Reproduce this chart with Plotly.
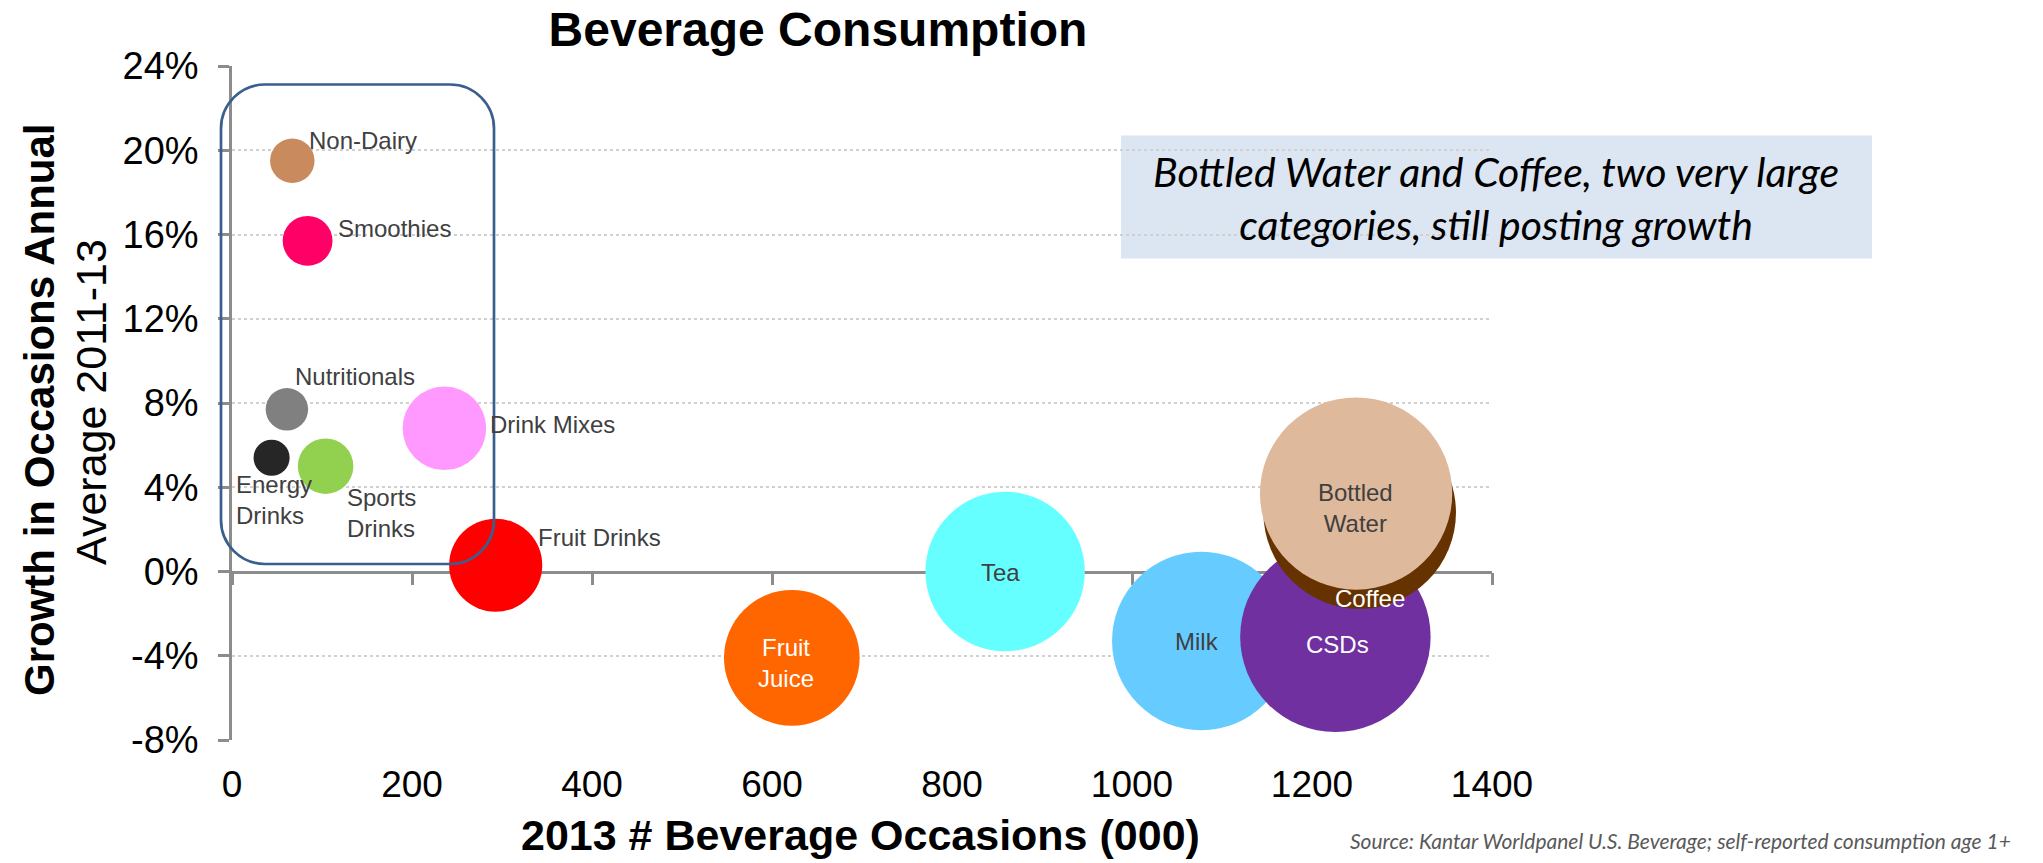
import plotly.graph_objects as go

# ---- data -------------------------------------------------------------
categories = ["Non-Dairy", "Smoothies", "Nutritionals", "Energy Drinks", "Sports Drinks",
              "Drink Mixes", "Fruit Drinks", "Fruit Juice", "Tea", "Milk", "CSDs",
              "Coffee", "Bottled Water"]
occasions = [67, 84, 61, 44, 104, 236, 293, 622, 859, 1077, 1226, 1253, 1249]   # 000s, 2013
growth = [19.5, 15.7, 7.7, 5.4, 5.0, 6.8, 0.3, -4.1, 0.0, -3.3, -3.1, 2.8, 3.7]  # % avg 2011-13
display_labels = ["Non-Dairy", "Smoothies", "Nutritionals", "Energy<br>Drinks", "Sports<br>Drinks",
                  "Drink Mixes", "Fruit Drinks", "Fruit<br>Juice", "Tea", "Milk", "CSDs",
                  "Coffee", "Bottled<br>Water"]
x_ticks = [0, 200, 400, 600, 800, 1000, 1200, 1400]
y_ticks = [-8, -4, 0, 4, 8, 12, 16, 20, 24]
y_tick_text = ["-8%", "-4%", "0%", "4%", "8%", "12%", "16%", "20%", "24%"]

# ---- styles -----------------------------------------------------------
bubble_colors = {
    "Non-Dairy": "#C98B5E", "Smoothies": "#FF0066", "Nutritionals": "#808080",
    "Energy Drinks": "#262626", "Sports Drinks": "#92D050", "Drink Mixes": "#FF99FF",
    "Fruit Drinks": "#FF0000", "Fruit Juice": "#FF6600", "Tea": "#66FFFF",
    "Milk": "#66CCFF", "CSDs": "#7030A0", "Coffee": "#663300", "Bottled Water": "#DFB99C",
}
DARK = "#404040"
WHITE = "#FFFFFF"
# label placement: (xanchor, xshift px, yshift px, colour)
label_style = {
    "Non-Dairy": ("left", 15, 20, DARK),
    "Smoothies": ("left", 28, 12, DARK),
    "Nutritionals": ("left", 6, 33, DARK),
    "Energy Drinks": ("left", -38, -42, DARK),
    "Sports Drinks": ("left", 19, -47, DARK),
    "Drink Mixes": ("left", 44, 4, DARK),
    "Fruit Drinks": ("left", 40, 28, DARK),
    "Fruit Juice": ("center", -6, -5, WHITE),
    "Tea": ("center", -5, -1, DARK),
    "Milk": ("center", -4, 0, DARK),
    "CSDs": ("center", 2, -8, WHITE),
    "Coffee": ("center", 10, -86, WHITE),
    "Bottled Water": ("center", -1, -14, DARK),
}

W, H = 2043, 863
PL, PR, PT, PB = 232, 1492, 66, 740   # plot area edges in pixels


def paper(xp, yp):
    """pixel position -> paper coordinates"""
    return (xp - PL) / (PR - PL), (PB - yp) / (PB - PT)


AXIS_GREY = "#8C8C8C"
SANS = "Liberation Sans, Arial, sans-serif"
ITALIC_FONT = "Lato, Open Sans, sans-serif"

fig = go.Figure()
fig.add_trace(go.Scatter(
    x=occasions, y=growth, mode="markers",
    marker=dict(size=occasions, sizemode="area", sizeref=0.0676,
                color=[bubble_colors[c] for c in categories],
                line=dict(width=0), opacity=1),
    hovertext=categories, hoverinfo="text", cliponaxis=False,
    showlegend=False,
))
# empty trace that binds the zero-line axis (x2) to the plot
fig.add_trace(go.Scatter(x=[None], y=[None], xaxis="x2", yaxis="y", mode="markers",
                         showlegend=False, hoverinfo="skip"))

annotations = []
for cat, xv, yv, lab in zip(categories, occasions, growth, display_labels):
    xa, xs, ys, col = label_style[cat]
    annotations.append(dict(
        x=xv, y=yv, xref="x", yref="y", text=lab, showarrow=False,
        xanchor=xa, yanchor="middle", xshift=xs, yshift=ys, align=xa,
        font=dict(family=SANS, size=24, color=col),
    ))

# axis titles
gx, gy = paper(39, 410)
annotations.append(dict(x=gx, y=gy, xref="paper", yref="paper", showarrow=False,
                        text="<b>Growth in Occasions Annual</b>", textangle=-90,
                        xanchor="center", yanchor="middle",
                        font=dict(family=SANS, size=42, color="#000000")))
gx, gy = paper(91, 402)
annotations.append(dict(x=gx, y=gy, xref="paper", yref="paper", showarrow=False,
                        text="Average 2011-13", textangle=-90,
                        xanchor="center", yanchor="middle",
                        font=dict(family=SANS, size=43, color="#000000")))
gx, gy = paper(860, 835)
annotations.append(dict(x=gx, y=gy, xref="paper", yref="paper", showarrow=False,
                        text="<b>2013 # Beverage Occasions (000)</b>",
                        xanchor="center", yanchor="middle",
                        font=dict(family=SANS, size=43, color="#000000")))
# source note
gx, gy = paper(2013, 840)
annotations.append(dict(x=gx, y=gy, xref="paper", yref="paper", showarrow=False,
                        text="<i>Source: Kantar Worldpanel U.S. Beverage; self-reported consumption age 1+</i>",
                        xanchor="right", yanchor="middle",
                        font=dict(family=ITALIC_FONT, size=21, color="#595959")))
# callout text
gx, gy = paper(1496, 198)
annotations.append(dict(x=gx, y=gy, xref="paper", yref="paper", showarrow=False,
                        text="<i>Bottled Water and Coffee, two very large<br>categories, still posting growth</i>",
                        xanchor="center", yanchor="middle", align="center",
                        font=dict(family=ITALIC_FONT, size=41, color="#000000")))

shapes = []
# callout background
x0, y0 = paper(1121, 258.5)
x1, y1 = paper(1872, 135.5)
shapes.append(dict(type="rect", xref="paper", yref="paper", x0=x0, y0=y0, x1=x1, y1=y1,
                   fillcolor="#DCE6F2", line=dict(width=0), layer="below"))

# rounded outline around the small, fast-growing categories
bx0, by0 = paper(221, 564)
bx1, by1 = paper(494, 84.5)
rx = 44 / (PR - PL)
ry = 44 / (PB - PT)
k = 0.5523
path = (
    f"M {bx0 + rx},{by1} L {bx1 - rx},{by1} "
    f"C {bx1 - rx * (1 - k)},{by1} {bx1},{by1 - ry * (1 - k)} {bx1},{by1 - ry} "
    f"L {bx1},{by0 + ry} "
    f"C {bx1},{by0 + ry * (1 - k)} {bx1 - rx * (1 - k)},{by0} {bx1 - rx},{by0} "
    f"L {bx0 + rx},{by0} "
    f"C {bx0 + rx * (1 - k)},{by0} {bx0},{by0 + ry * (1 - k)} {bx0},{by0 + ry} "
    f"L {bx0},{by1 - ry} "
    f"C {bx0},{by1 - ry * (1 - k)} {bx0 + rx * (1 - k)},{by1} {bx0 + rx},{by1} Z"
)
shapes.append(dict(type="path", xref="paper", yref="paper", path=path,
                   line=dict(color="#3A5F8F", width=2.7), fillcolor="rgba(0,0,0,0)",
                   layer="above"))

fig.update_layout(
    width=W, height=H, autosize=False,
    margin=dict(l=PL, r=W - PR, t=PT, b=H - PB, pad=0),
    paper_bgcolor="white", plot_bgcolor="white",
    title=dict(text="<b>Beverage Consumption</b>", xref="container", yref="container",
               x=818 / W, y=1 - 29 / H, xanchor="center", yanchor="middle",
               font=dict(family=SANS, size=48, color="#000000")),
    xaxis=dict(range=[0, 1400], tickvals=x_ticks, showgrid=False, zeroline=False,
               showline=False, ticks="outside", ticklen=12, tickcolor="rgba(0,0,0,0)",
               tickfont=dict(family=SANS, size=37, color="#000000"), fixedrange=True),
    xaxis2=dict(range=[0, 1400], tickvals=x_ticks, overlaying="x", anchor="free",
                position=0.25, showgrid=False, zeroline=False, showline=True,
                linecolor=AXIS_GREY, linewidth=2.5, ticks="outside", ticklen=12,
                tickwidth=2.5, tickcolor=AXIS_GREY, showticklabels=False,
                layer="below traces", fixedrange=True),
    yaxis=dict(range=[-8, 24], tickvals=y_ticks, ticktext=y_tick_text, zeroline=False,
               showline=True, linecolor=AXIS_GREY, linewidth=2.5,
               ticks="outside", ticklen=11, tickwidth=2.5, tickcolor=AXIS_GREY,
               ticklabelstandoff=12, layer="below traces",
               showgrid=True, gridcolor="#D0D0D0", gridwidth=2, griddash="dot",
               tickfont=dict(family=SANS, size=38, color="#000000"), fixedrange=True),
    annotations=annotations,
    shapes=shapes,
)

fig.write_html("out.html")
